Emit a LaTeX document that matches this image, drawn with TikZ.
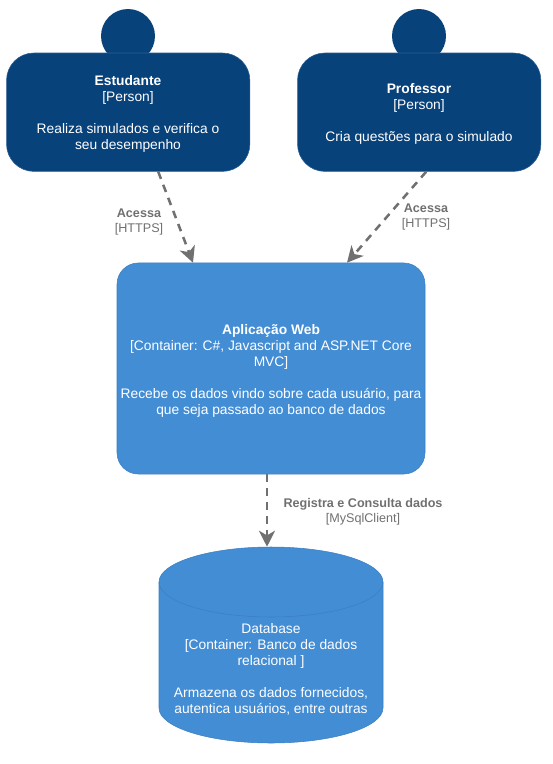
\documentclass[tikz,border=0pt]{standalone}
\usepackage{fontspec}
\setmainfont{Liberation Sans}
\usetikzlibrary{arrows.meta,calc}
\definecolor{personfill}{HTML}{08427B}
\definecolor{personline}{HTML}{2A5C91}
\definecolor{contfill}{HTML}{438DD5}
\definecolor{contline}{HTML}{3C7FC0}
\definecolor{linkgray}{HTML}{707070}
\tikzset{
  x=0.75pt,y=-0.75pt,
  personbox/.style={draw=personline,line width=0.4pt,fill=personfill,rounded corners=20.5pt,minimum width=182.5pt,minimum height=88.8pt,inner sep=0pt},
  headdot/.style={circle,fill=personfill,minimum size=40.5pt,inner sep=0pt},
  webbox/.style={draw=contline,line width=0.4pt,fill=contfill,rounded corners=16pt,minimum width=231pt,minimum height=158.3pt,inner sep=0pt},
  dbframe/.style={minimum width=168pt,minimum height=147pt,inner sep=0pt},
  dbbody/.style={draw=contline,line width=0.4pt,fill=contfill},
  bodytext/.style={text=white,align=center,font=\fontsize{10.35pt}{12pt}\selectfont,inner sep=0pt},
  linktext/.style={text=linkgray,align=center,font=\fontsize{9.45pt}{11.6pt}\selectfont,inner sep=0pt},
  link/.style={draw=linkgray,line width=1.9pt,dash pattern=on 5.8pt off 4.7pt,-{Stealth[length=12pt,width=12pt,inset=3.5pt]}},
}
\begin{document}
\begin{tikzpicture}
\useasboundingbox (0,0) rectangle (553,764);
\node[headdot] (h1) at (128,36) {};
\node[headdot] (h2) at (419,36) {};
\node[personbox] (est) at (128.2,112.2) {};
\node[personbox] (prof) at (419.2,112.2) {};
\node[webbox] (web) at (271,368.5) {};
\path[dbbody] (159,582) arc[start angle=180,end angle=360,x radius=112,y radius=35]
  -- (383,708) arc[start angle=0,end angle=180,x radius=112,y radius=35] -- cycle;
\path[draw=contline,line width=0.4pt] (159,582) arc[start angle=180,end angle=0,x radius=112,y radius=35];
\node[dbframe] (db) at (271,645) {};
\draw[link] ($(est.south)+(30,0)$) -- ($(web.north)+(-78,0)$);
\draw[link] ($(prof.south)+(7,0)$) -- ($(web.north)+(76,0)$);
\draw[link] ($(web.south)+(-4,0)$) -- ($(db.north)+(-4,0)$);
\node[bodytext] (t1) at (128,113.8) {\textbf{Estudante}\\{}[Person]\\[12pt]Realiza simulados e verifica o\\seu desempenho};
\node[bodytext] (t2) at (419,113.8) {\textbf{Professor}\\{}[Person]\\[12pt]Cria questões para o simulado};
\node[bodytext] (t3) at (271,370.5) {\textbf{Aplicação Web}\\{}[Container: C\#, Javascript and ASP.NET Core\\MVC]\\[12pt]Recebe os dados vindo sobre cada usuário, para\\que seja passado ao banco de dados};
\node[bodytext] (t4) at (271,669) {Database\\{}[Container: Banco de dados\\relacional ]\\[12pt]Armazena os dados fornecidos,\\autentica usuários, entre outras};
\node[linktext] (l1) at (139,222) {\textbf{Acessa}\\{}[HTTPS]};
\node[linktext] (l2) at (426,217) {\textbf{Acessa}\\{}[HTTPS]};
\node[linktext] (l3) at (363,512) {\textbf{Registra e Consulta dados}\\{}[MySqlClient]};
\end{tikzpicture}
\end{document}
